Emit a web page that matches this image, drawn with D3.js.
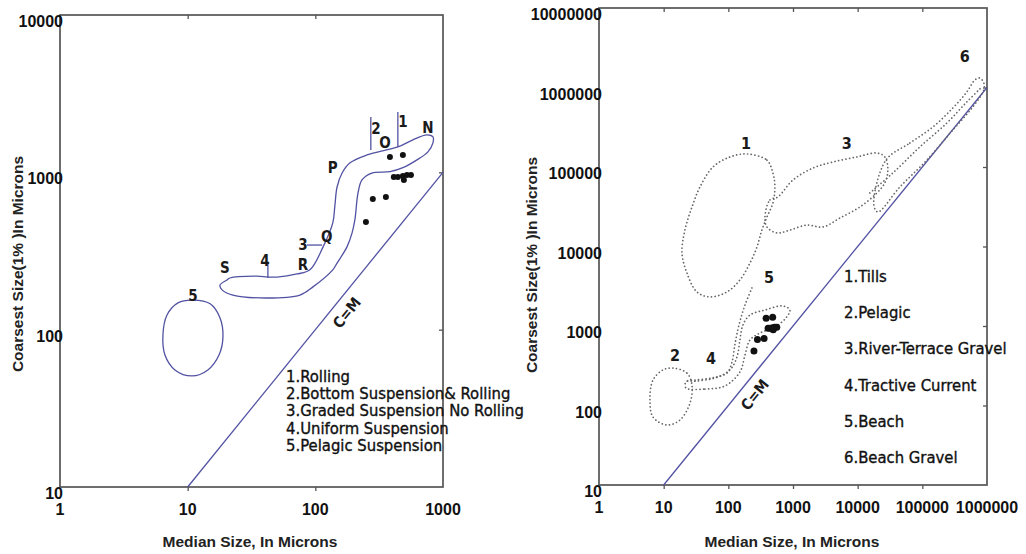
<!DOCTYPE html>
<html>
<head>
<meta charset="utf-8">
<script src="https://cdn.jsdelivr.net/npm/d3@7"></script>
<style>
  body { margin: 0; background: #fff; }
  text { font-family: "Liberation Sans", Arial, sans-serif; }
  .tick-lbl { font-weight: bold; font-size: 16px; fill: #111; }
  .ax-title { font-weight: bold; font-size: 15.5px; fill: #222; }
  .legend { font-family: "DejaVu Sans Condensed", "DejaVu Sans", sans-serif; font-size: 16.5px; fill: #111; stroke: #111; stroke-width: 0.35px; }
  .mark { font-family: "DejaVu Sans Condensed", "DejaVu Sans", sans-serif; font-weight: bold; font-size: 15px; fill: #1a1a1a; }
</style>
</head>
<body>
<svg id="chart" width="1026" height="554"></svg>
<script>
// ---- data ----
var leftTicksX = [1, 10, 100, 1000];
var leftTicksY = [10, 100, 1000, 10000];
var rightTicksX = [1, 10, 100, 1000, 10000, 100000, 1000000];
var rightTicksY = [10, 100, 1000, 10000, 100000, 1000000, 10000000];

// sample points (median, coarsest), same samples on both charts
var sampleMedian   = [384, 485, 412, 443, 485, 522, 561, 494, 282, 357, 249];
var sampleCoarsest = [1253, 1291, 935, 935, 948, 962, 962, 895, 678, 698, 484];

// left chart: NOPQRS band (fields 1-4) and pelagic suspension field 5
var bandOutline = [[21.4,213],[34.9,219],[42.5,216],[50,216],[71.8,226],[90.7,240],[115,336],[137,477],
  [142,603],[148,807],[162,990],[187,1150],[254,1290],[443,1450],[581,1610],[748,1730],[834,1680],
  [834,1540],[762,1350],[625,1200],[485,1070],[384,1010],[277,990],[232,895],[216,740],[204,498],
  [194,412],[177,336],[148,265],[137,240],[95.8,187],[75.7,166],[41.8,159],[22.6,166],[18.6,179],
  [17.9,192],[20.3,207]];
var pelagicOutline = [[11,154],[15,146],[17.9,119],[18.9,90],[17.6,69],[14.4,55.5],[10.8,50.8],
  [7.95,55.5],[6.64,69],[6.4,92.5],[6.89,124],[8.4,148]];
var dividers = [
  [[272,2250],[272,1387]],
  [[443,2420],[443,1449]],
  [[42.5,269],[42.5,213]],
  [[86,345],[113,345]]
];
var leftMarks = [["N",762,1914],["O",351,1538],["1",485,2090],["2",298,1888],["P",137,1067],
  ["Q",123,388],["3",80,345],["R",80,258],["4",40.3,274],["S",19.6,247],["5",11,164]];
var leftLegend = ["1.Rolling", "2.Bottom Suspension& Rolling", "3.Graded Suspension No Rolling",
  "4.Uniform Suspension", "5.Pelagic Suspension"];

// right chart: dotted fields
var tills = [[194,145900],[395,122000],[489,84100],[525,56000],[489,35200],[395,23500],[330,16100],
  [277,9860],[216,6190],[151,3790],[95,2680],[52,2320],[32.7,2680],[22.9,4640],[19.2,8280],
  [21.3,16100],[27.4,31400],[36.4,56000],[57.8,100000],[106,133700]];
var riverTerrace = [[368,23500],[440,38500],[584,42000],[996,68500],[2030,97000],[4140,115600],
  [9720,133700],[19800,150000],[26300,133700],[29300,91600],[26300,63000],[19800,47100],
  [10800,31400],[5310,22800],[2900,17600],[1640,18600],[896,16100],[564,14800],[395,17600]];
var beachGravel = [[27300,122000],[64100,200000],[145000,318000],[296000,552000],[487000,877000],
  [648000,1242000],[774000,1316000],[892000,1140000],[892000,931000],[604000,569000],
  [296000,292000],[117000,122000],[44900,56000],[20500,27200],[17800,33300]];
var gravelInner = [[15400,47100],[35000,84100],[91500,178600],[239000,357000],[487000,657000],[831000,1014000]];
var pelagic = [[13.9,296],[22.9,256],[27.4,181],[25.5,107],[17.9,65.8],[11.2,56.9],[6.84,71.6],
  [6.14,117],[6.84,209],[9.76,280]];
var tractive = [[22.1,166],[43.5,161],[88.6,176],[151,264],[181,432],[216,667],[308,816],[525,971],
  [777,1262],[896,1589],[698,1786],[368,1589],[216,1374],[168,1030],[151,667],[136,407],
  [106,280],[62.1,222],[32.7,203],[22.1,198]];
var beach = [[232,3010],[181,1835],[146,1030],[126,577],[114,352],[95,256],[55.8,222],[30.5,209],[22.1,203]];
var rightMarks = [["6",454000,2420000],["1",187,200000],["3",6810,200000],["5",424,4020],
  ["2",15,420],["4",53.8,395]];
var rightLegend = ["1.Tills", "2.Pelagic", "3.River-Terrace Gravel", "4.Tractive Current",
  "5.Beach", "6.Beach Gravel"];

// ---- drawing ----
var svg = d3.select("#chart");
var blue = "#5252a3";

var xL = d3.scaleLog().domain([1, 1000]).range([60, 443]);
var yL = d3.scaleLog().domain([10, 10000]).range([487, 15]);
var xR = d3.scaleLog().domain([1, 1000000]).range([599, 987]);
var yR = d3.scaleLog().domain([10, 10000000]).range([485, 8]);

function frame(x, y, xt, yt) {
  var x0 = x.range()[0], x1 = x.range()[1], y0 = y.range()[0], y1 = y.range()[1];
  var g = svg.append("g");
  g.append("g").attr("transform", `translate(0,${y0})`)
    .call(d3.axisBottom(x).tickValues(xt.slice(1, -1)).tickSize(4).tickFormat(""));
  g.append("g").attr("transform", `translate(0,${y1})`)
    .call(d3.axisBottom(x).tickValues(xt.slice(1, -1)).tickSize(4).tickFormat(""));
  g.append("g").attr("transform", `translate(${x1},0)`)
    .call(d3.axisLeft(y).tickValues(yt.slice(1, -1)).tickSize(4).tickFormat(""));
  g.selectAll(".domain").remove();
  g.selectAll(".tick line").attr("stroke", "#555").attr("stroke-width", 1.3);
  g.append("rect").attr("x", x0).attr("y", y1).attr("width", x1 - x0).attr("height", y0 - y1)
    .attr("fill", "none").attr("stroke", "#555").attr("stroke-width", 1.7);

  g.selectAll("text.xl").data(xt).enter().append("text")
    .attr("class", "tick-lbl").attr("x", d => x(d)).attr("y", y0 + 28)
    .attr("text-anchor", "middle").text(d3.format("d"));
  g.selectAll("text.yl").data(yt).enter().append("text")
    .attr("class", "tick-lbl").attr("x", x0 + 3).attr("y", d => y(d) + 12)
    .attr("text-anchor", "end").text(d3.format("d"));

  // C=M line
  svg.append("line")
    .attr("x1", x(10)).attr("y1", y(10))
    .attr("x2", x(x.domain()[1])).attr("y2", y(x.domain()[1]))
    .attr("stroke", blue).attr("stroke-width", 1.3);
}

function titles(cx, cy, ty) {
  svg.append("text").attr("class", "ax-title").attr("x", cx).attr("y", 547)
    .attr("text-anchor", "middle").text("Median Size, In Microns");
  svg.append("text").attr("class", "ax-title")
    .attr("transform", `translate(${ty},${cy}) rotate(-90)`)
    .attr("text-anchor", "middle").text("Coarsest Size(1% )In Microns");
}

function cmLabel(x, y, pt) {
  var ang = Math.atan2(y(100) - y(10), x(100) - x(10)) * 180 / Math.PI;
  svg.append("text").attr("class", "mark")
    .attr("transform", `translate(${x(pt[0])},${y(pt[1])}) rotate(${ang})`)
    .attr("text-anchor", "middle").attr("dominant-baseline", "central")
    .style("font-size", "15px").text("C=M");
}

// left chart
frame(xL, yL, leftTicksX, leftTicksY);
titles(250, 264, 23);

var lineL = d3.line().x(d => xL(d[0])).y(d => yL(d[1]));
svg.append("path").attr("d", lineL.curve(d3.curveCatmullRomClosed)(bandOutline))
  .attr("fill", "none").attr("stroke", blue).attr("stroke-width", 1.3);
svg.append("path").attr("d", lineL.curve(d3.curveCatmullRomClosed)(pelagicOutline))
  .attr("fill", "none").attr("stroke", blue).attr("stroke-width", 1.3);
dividers.forEach(function (d) {
  svg.append("path").attr("d", d3.line().x(p => xL(p[0])).y(p => yL(p[1]))(d))
    .attr("fill", "none").attr("stroke", blue).attr("stroke-width", 1.3);
});

svg.selectAll("circle.l").data(sampleMedian).enter().append("circle")
  .attr("cx", d => xL(d)).attr("cy", (d, i) => yL(sampleCoarsest[i]))
  .attr("r", 3).attr("fill", "#111");

svg.selectAll("text.lm").data(leftMarks).enter().append("text")
  .attr("class", "mark").attr("x", d => xL(d[1])).attr("y", d => yL(d[2]))
  .attr("text-anchor", "middle").attr("dominant-baseline", "central").text(d => d[0]);

cmLabel(xL, yL, [177, 128]);

svg.selectAll("text.ll").data(leftLegend).enter().append("text")
  .attr("class", "legend").attr("x", 286).attr("y", (d, i) => 382 + i * 17.2).text(d => d);

// right chart
frame(xR, yR, rightTicksX, rightTicksY);
titles(792, 265, 537);

var lineR = d3.line().x(d => xR(d[0])).y(d => yR(d[1]));
function dotted(pts, closed) {
  svg.append("path")
    .attr("d", lineR.curve(closed ? d3.curveCatmullRomClosed : d3.curveCatmullRom)(pts))
    .attr("fill", "none").attr("stroke", "#666").attr("stroke-width", 1.7)
    .attr("stroke-linecap", "round").attr("stroke-dasharray", "0.1,3.6");
}
dotted(tills, true);
dotted(riverTerrace, true);
dotted(beachGravel, true);
dotted(gravelInner, false);
dotted(pelagic, true);
dotted(tractive, true);
dotted(beach, false);

svg.selectAll("circle.r").data(sampleMedian).enter().append("circle")
  .attr("cx", d => xR(d)).attr("cy", (d, i) => yR(sampleCoarsest[i]))
  .attr("r", 3.5).attr("fill", "#111");

svg.selectAll("text.rm").data(rightMarks).enter().append("text")
  .attr("class", "mark").attr("x", d => xR(d[1])).attr("y", d => yR(d[2]))
  .attr("text-anchor", "middle").attr("dominant-baseline", "central")
  .style("font-size", "16px").text(d => d[0]);

cmLabel(xR, yR, [258, 136]);

svg.selectAll("text.rl").data(rightLegend).enter().append("text")
  .attr("class", "legend").attr("x", 844).attr("y", (d, i) => 282 + i * 36.2).text(d => d);
</script>
</body>
</html>
